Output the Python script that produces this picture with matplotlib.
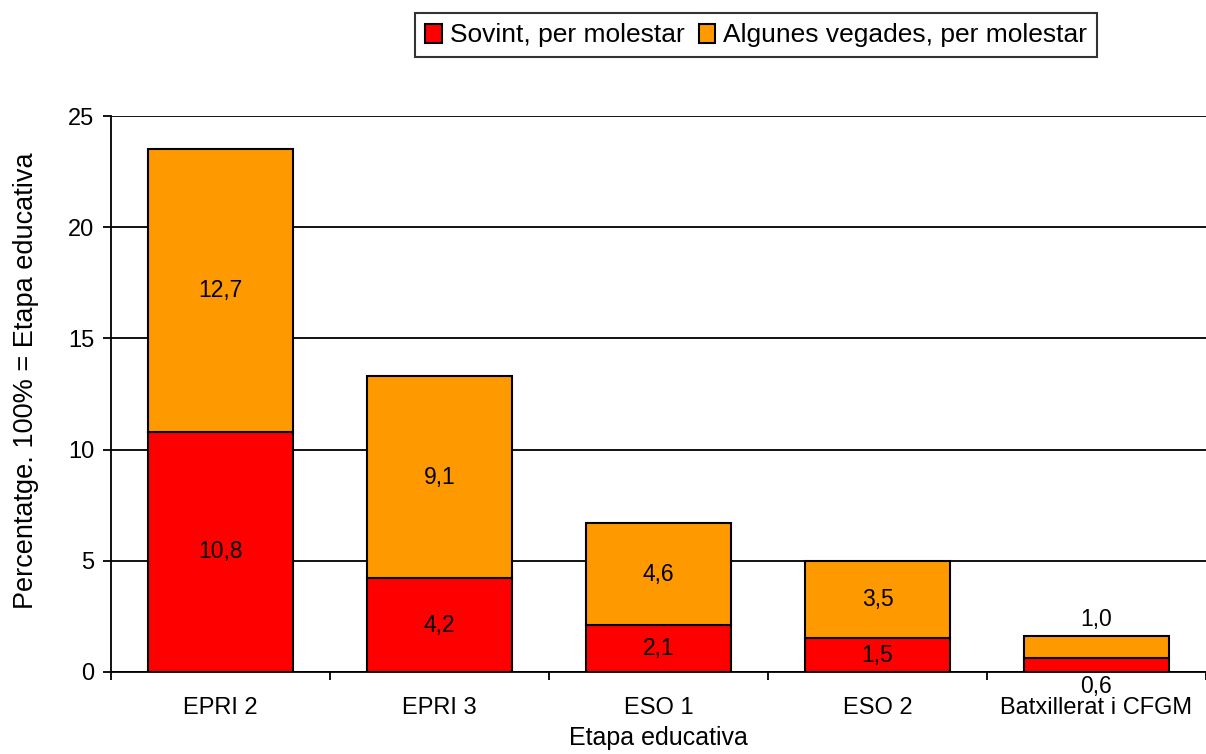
import matplotlib
matplotlib.use("Agg")
import matplotlib.pyplot as plt
import numpy as np

plt.rcParams["font.family"] = ["Liberation Sans", "DejaVu Sans"]

# data
etapes = ["EPRI 2", "EPRI 3", "ESO 1", "ESO 2", "Batxillerat i CFGM"]
sovint = [10.8, 4.2, 2.1, 1.5, 0.6]
algunes = [12.7, 9.1, 4.6, 3.5, 1.0]
sovint_lbl = ["10,8", "4,2", "2,1", "1,5", "0,6"]
algunes_lbl = ["12,7", "9,1", "4,6", "3,5", "1,0"]

red = "#FF0000"
orange = "#FF9900"
fs = 16.5

fig = plt.figure(figsize=(12.06, 7.54), dpi=100)
ax = fig.add_axes([0.092, 0.109, 0.908, 0.737])

x = np.arange(len(etapes))
w = 0.66
b1 = ax.bar(x, sovint, w, color=red, edgecolor="black", lw=1.5, zorder=3,
            label="Sovint, per molestar")
b2 = ax.bar(x, algunes, w, bottom=sovint, color=orange, edgecolor="black", lw=1.5,
            zorder=3, label="Algunes vegades, per molestar")

# value labels (small last bar: labels outside)
for i in range(len(etapes)):
    s, a = sovint[i], algunes[i]
    if s + a < 3:
        ax.annotate(algunes_lbl[i], (x[i], s + a), xytext=(0, 4), textcoords="offset points",
                    ha="center", va="bottom", fontsize=fs)
        ax.annotate(sovint_lbl[i], (x[i], 0), xytext=(0, -2), textcoords="offset points",
                    ha="center", va="top", fontsize=fs)
    else:
        ax.text(x[i], s / 2, sovint_lbl[i], ha="center", va="center", fontsize=fs, zorder=4)
        ax.text(x[i], s + a / 2, algunes_lbl[i], ha="center", va="center", fontsize=fs, zorder=4)

ax.set_xlim(-0.5, len(etapes) - 0.5)
ax.set_ylim(0, 25)
ax.set_yticks(np.arange(0, 26, 5))
ax.yaxis.grid(True, color="black", lw=1.3, zorder=0)
ax.set_axisbelow(True)

ax.set_xticks(x)
ax.set_xticklabels(etapes, fontsize=17)
ax.set_xticks(np.arange(-0.5, len(etapes)), minor=True)
ax.tick_params(axis="x", which="major", length=0, pad=18)
ax.tick_params(axis="x", which="minor", length=6, width=1.3, direction="out")
ax.tick_params(axis="y", length=6, width=1.3, labelsize=17, pad=6)

for sp in ["top", "right"]:
    ax.spines[sp].set_visible(False)
for sp in ["left", "bottom"]:
    ax.spines[sp].set_linewidth(1.3)

ax.set_xlabel("Etapa educativa", fontsize=18, labelpad=5)
ax.set_ylabel("Percentatge. 100% = Etapa educativa", fontsize=19.5, labelpad=21, y=0.523)

leg = fig.legend(handles=[b1, b2], loc="center", bbox_to_anchor=(0.627, 0.953), ncol=2,
                 fontsize=19, frameon=True, fancybox=False, edgecolor="black",
                 handlelength=0.62, handleheight=0.75, handletextpad=0.3, columnspacing=0.55,
                 borderpad=0.38, borderaxespad=0)
leg.get_frame().set_linewidth(1.5)

fig.savefig("out.png", dpi=100)
